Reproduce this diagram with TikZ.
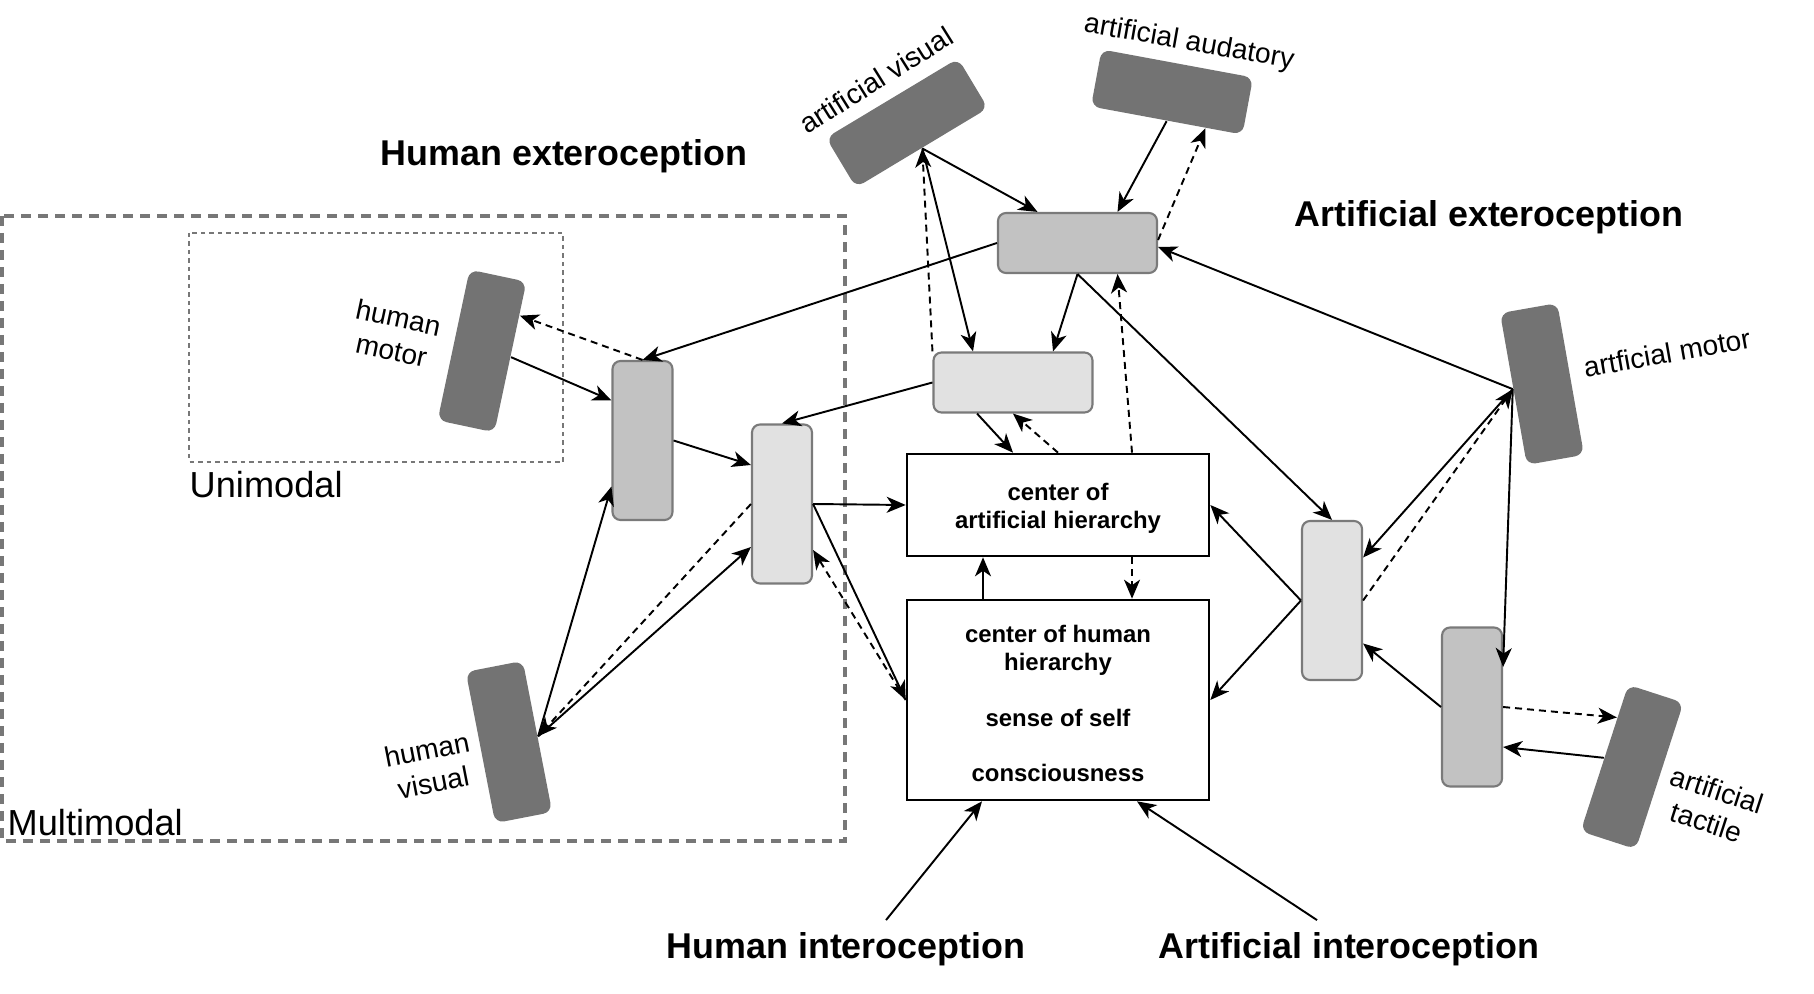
\documentclass[tikz,border=0pt]{standalone}
\usepackage{fontspec}
\setmainfont{Liberation Sans}
\usetikzlibrary{positioning,arrows.meta}
\definecolor{sensor}{HTML}{737373}
\definecolor{unigray}{HTML}{C2C2C2}
\definecolor{multigray}{HTML}{E1E1E1}
\definecolor{rimgray}{HTML}{7A7A7A}
\definecolor{zonegray}{HTML}{777777}

\begin{document}
\begin{tikzpicture}[
  font=\fontsize{8}{9.6}\selectfont,
  sense/.style = {fill=sensor, rounded corners=0.9mm, minimum width=15.4mm,
                  minimum height=5.8mm, inner sep=0pt},
  uni/.style   = {draw=rimgray, fill=unigray, line width=0.6pt,
                  rounded corners=0.8mm, inner sep=0pt},
  multi/.style = {draw=rimgray, fill=multigray, line width=0.6pt,
                  rounded corners=0.8mm, inner sep=0pt},
  vbox/.style  = {minimum width=6mm, minimum height=15.9mm},
  hbox/.style  = {minimum width=15.9mm, minimum height=6mm},
  hub/.style   = {draw, line width=0.75pt, fill=white, minimum width=30.2mm,
                  align=center, inner sep=0pt,
                  font=\fontsize{6.8}{7.95}\selectfont\bfseries},
  lbl/.style   = {align=center, inner sep=0pt},
  head/.style  = {font=\fontsize{10.2}{12}\selectfont\bfseries, inner sep=0pt},
  zone/.style  = {font=\fontsize{10.3}{12}\selectfont, inner sep=0pt},
  arr/.style   = {-{Stealth[length=1.9mm,width=1.6mm,inset=0.55mm]}, line width=0.55pt},
  fb/.style    = {arr, dash pattern=on 0.7mm off 0.5mm},
]
\useasboundingbox (0,0) rectangle (18.14,-9.94);

\draw[zonegray, line width=1.15pt, dash pattern=on 1mm off 0.7mm]
  (0.02,-2.16) rectangle (8.45,-8.41);
\draw[zonegray, line width=0.45pt, dash pattern=on 0.45mm off 0.4mm]
  (1.89,-2.33) rectangle (5.63,-4.62);
\node[zone, anchor=base west] (unil) at (1.89,-4.98) {Unimodal};
\node[zone, anchor=base west] (multil) at (0.07,-8.35) {Multimodal};

\node[sense, rotate=31] (avis) at (9.07,-1.23) {};
\node[sense, rotate=-10.5] (aaud) at (11.72,-0.92) {};
\node[sense, rotate=78] (hmot) at (4.82,-3.51) {};
\node[sense, rotate=101] (hvis) at (5.09,-7.42) {};
\node[sense, rotate=100] (amot) at (15.42,-3.84) {};
\node[sense, rotate=72] (atact) at (16.32,-7.67) {};

\node[lbl, rotate=32] (avisl) at (8.76,-0.80) {artificial visual};
\node[lbl, rotate=-10] (aaudl) at (11.89,-0.43) {artificial audatory};
\node[lbl, rotate=-12] (hmotl) at (3.95,-3.34) {human\\motor};
\node[lbl, rotate=11] (hvisl) at (4.30,-7.66) {human\\visual};
\node[lbl, rotate=10] (amotl) at (16.67,-3.53) {artficial motor};
\node[lbl, rotate=-18] (atactl) at (17.12,-8.06) {artificial\\tactile};

\node[uni, hbox] (etop) at (10.775,-2.43) {};
\node[multi, hbox] (emid) at (10.13,-3.825) {};
\node[uni, vbox] (hunim) at (6.425,-4.405) {};
\node[multi, vbox] (hmulti) at (7.82,-5.04) {};
\node[multi, vbox] (amulti) at (13.32,-6.005) {};
\node[uni, vbox] (tuni) at (14.72,-7.07) {};

\node[hub, minimum height=10.2mm] (ahub) at (10.58,-5.05)
  {\rule{0pt}{2.45mm}center of\\artificial hierarchy};
\node[hub, minimum height=20mm] (hhub) at (10.58,-7.00)
  {\rule{0pt}{2.45mm}center of human\\hierarchy\\[7.95pt]sense of self\\[7.95pt]consciousness};

\node[head] (hext) at (5.64,-1.565) {Human exteroception};
\node[head] (aext) at (14.89,-2.175) {Artificial exteroception};
\node[head] (hint) at (8.46,-9.495) {Human interoception};
\node[head] (aint) at (13.49,-9.495) {Artificial interoception};

\draw[arr] (hmot.south) -- ([yshift=4mm]hunim.west);
\draw[fb] (hunim.north) -- (hmot.-35);
\draw[arr] (hvis.south) -- ([yshift=-4.6mm]hunim.west);
\draw[arr] (hvis.south) -- ([yshift=-4.3mm]hmulti.west);
\draw[fb] (hmulti.west) -- (hvis.south);
\draw[arr] (hunim.east) -- ([yshift=3.9mm]hmulti.west);
\draw[arr] (etop.west) -- (hunim.north);
\draw[arr] (emid.west) -- (hmulti.north);
\draw[arr] (hmulti.east) -- (ahub.west);
\draw[arr] (hmulti.east) -- (hhub.west);
\draw[fb] (hhub.west) -- ([yshift=-4.6mm]hmulti.east);

\draw[arr] (avis.south) -- ([xshift=-4mm]etop.north);
\draw[arr] (avis.south) -- ([xshift=-4mm]emid.north);
\draw[fb] (emid.north west) -- (avis.south);
\draw[arr] (aaud.south) -- ([xshift=4mm]etop.north);
\draw[fb] ([yshift=0.3mm]etop.east) -- (aaud.-37);
\draw[arr] (amot.north) -- ([yshift=-0.4mm]etop.east);
\draw[arr] (etop.south) -- ([xshift=4mm]emid.north);
\draw[arr] (etop.south) -- (amulti.north);
\draw[fb] ([xshift=7.4mm]ahub.north) -- ([xshift=4mm]etop.south);
\draw[arr] ([xshift=-3.6mm]emid.south) -- ([xshift=-4.5mm]ahub.north);
\draw[fb] (ahub.north) -- (emid.south);

\draw[arr] ([xshift=-7.5mm]hhub.north) -- ([xshift=-7.5mm]ahub.south);
\draw[fb] ([xshift=7.4mm]ahub.south) -- ([xshift=7.4mm]hhub.north);
\draw[arr] (amulti.west) -- (ahub.east);
\draw[arr] (amulti.west) -- (hhub.east);
\draw[arr] ([xshift=4mm,yshift=1.2mm]hint.north) -- ([xshift=-7.6mm]hhub.south);
\draw[arr] ([xshift=-3.2mm,yshift=1.2mm]aint.north) -- ([xshift=7.9mm]hhub.south);

\draw[arr] (amot.north) -- ([yshift=4.3mm]amulti.east);
\draw[fb] (amulti.east) -- (amot.north);
\draw[arr] (amot.north) -- ([yshift=4mm]tuni.east);
\draw[fb] (tuni.east) -- (atact.35);
\draw[arr] (atact.north) -- ([yshift=-4mm]tuni.east);
\draw[arr] (tuni.west) -- ([yshift=-4.3mm]amulti.east);

\end{tikzpicture}
\end{document}
